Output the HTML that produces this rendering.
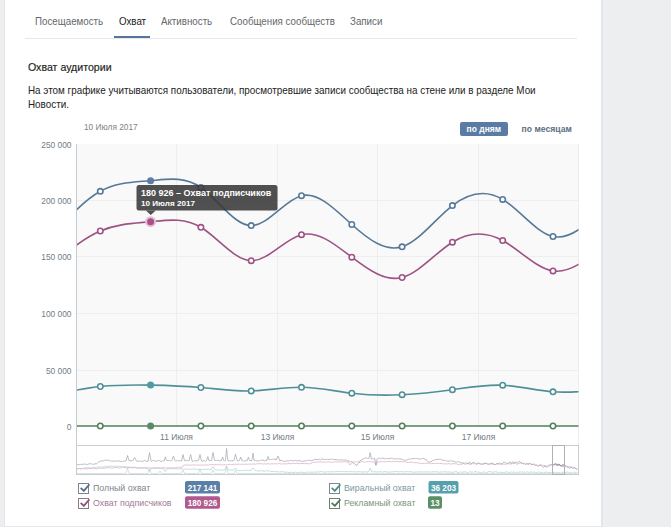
<!DOCTYPE html>
<html><head><meta charset="utf-8">
<style>
html,body{margin:0;padding:0;}
body{width:671px;height:527px;background:#edeef0;position:relative;overflow:hidden;font-family:"Liberation Sans",sans-serif;}
.panel{position:absolute;left:5px;top:0;width:596px;height:527px;background:#fff;}
.edge{position:absolute;left:601px;top:0;width:2px;height:527px;background:#e4e5e9;}
.edge2{position:absolute;left:603px;top:0;width:1px;height:527px;background:#eff0f2;}
.edgel{position:absolute;left:4px;top:0;width:1px;height:527px;background:#e4e5e8;}
.t{position:absolute;white-space:nowrap;line-height:1;}
.tab{font-size:10.6px;color:#64676b;top:15.5px;}
.sx{display:inline-block;transform-origin:0 0;}
</style></head><body>
<div class="panel"></div>
<div class="edge"></div><div style="position:absolute;left:5px;top:526px;width:596px;height:1px;background:#e6e7ea"></div><div class="edge2"></div><div class="edgel"></div>
<div class="t tab" style="left:35px"><span class="sx" style="transform:scaleX(0.92)">Посещаемость</span></div>
<div class="t tab" style="left:119px;color:#222"><span class="sx" style="transform:scaleX(0.92)">Охват</span></div>
<div class="t tab" style="left:161px"><span class="sx" style="transform:scaleX(0.92)">Активность</span></div>
<div class="t tab" style="left:230px"><span class="sx" style="transform:scaleX(0.92)">Сообщения сообществ</span></div>
<div class="t tab" style="left:350px"><span class="sx" style="transform:scaleX(0.92)">Записи</span></div>
<div style="position:absolute;left:25px;top:38px;width:552px;height:1px;background:#e7e8ec"></div>
<div style="position:absolute;left:114px;top:36px;width:36px;height:2px;background:#56779b"></div>
<div class="t" style="left:28px;top:62px;font-size:10.6px;color:#222;-webkit-text-stroke:0.15px #222">Охват аудитории</div>
<div class="t" style="left:28px;top:82.5px;font-size:10.8px;color:#222;line-height:14px"><span class="sx" style="transform:scaleX(0.9135)">На этом графике учитываются пользователи, просмотревшие записи сообщества на стене или в разделе Мои<br>Новости.</span></div>
<div class="t" style="left:84px;top:123px;font-size:8.3px;color:#828282">10 Июля 2017</div>
<div style="position:absolute;left:460px;top:122px;width:48px;height:14px;background:#5a7ca4;border-radius:2px"></div>
<div class="t" style="left:466.6px;top:125px;font-size:8.5px;font-weight:bold;color:#fff">по дням</div>
<div class="t" style="left:521.6px;top:125px;font-size:8.6px;font-weight:bold;color:#5d6f85">по месяцам</div>
<svg width="671" height="527" style="position:absolute;left:0;top:0">
<defs><clipPath id="pc"><rect x="77" y="130" width="501.5" height="310"/></clipPath></defs>
<rect x="77" y="144" width="501.5" height="283" fill="#f9f9fa"/>
<g stroke="#eceef0" stroke-width="1">

<line x1="77" y1="200.5" x2="578" y2="200.5"/>
<line x1="77" y1="256.5" x2="578" y2="256.5"/>
<line x1="77" y1="313.5" x2="578" y2="313.5"/>
<line x1="77" y1="370.5" x2="578" y2="370.5"/>
<line x1="176.5" y1="144" x2="176.5" y2="427"/>
<line x1="277.5" y1="144" x2="277.5" y2="427"/>
<line x1="377.5" y1="144" x2="377.5" y2="427"/>
<line x1="478.5" y1="144" x2="478.5" y2="427"/>
<line x1="578.5" y1="144" x2="578.5" y2="445"/>
</g>
<line x1="76.5" y1="144" x2="76.5" y2="475" stroke="#c6cbd2" stroke-width="1"/>
<g font-family="Liberation Sans" font-size="8.4" fill="#717b86" text-anchor="end">
<text x="71.5" y="147.5">250 000</text>
<text x="71.5" y="203.5">200 000</text>
<text x="71.5" y="260">150 000</text>
<text x="71.5" y="316.5">100 000</text>
<text x="71.5" y="373.5">50 000</text>
<text x="71.5" y="429.5">0</text>
</g>
<g font-family="Liberation Sans" font-size="8.46" fill="#717b86" text-anchor="middle">
<text x="176.5" y="440">11 Июля</text>
<text x="277.5" y="440">13 Июля</text>
<text x="377.5" y="440">15 Июля</text>
<text x="478.5" y="440">17 Июля</text>
</g>
<path d="M50.00,426.00 C66.77,426.00 83.53,426.00 100.30,426.00 C117.07,426.00 133.83,426.00 150.60,426.00 C167.37,426.00 184.13,426.00 200.90,426.00 C217.67,426.00 234.43,426.00 251.20,426.00 C267.97,426.00 284.73,426.00 301.50,426.00 C318.27,426.00 335.03,426.00 351.80,426.00 C368.57,426.00 385.33,426.00 402.10,426.00 C418.87,426.00 435.63,426.00 452.40,426.00 C469.17,426.00 485.93,426.00 502.70,426.00 C519.47,426.00 536.23,426.00 553.00,426.00 C569.77,426.00 586.53,426.00 603.30,426.00" fill="none" stroke="#537f5c" stroke-width="1.6" clip-path="url(#pc)"/>
<circle cx="100.30" cy="426.00" r="2.7" fill="#fff" stroke="#537f5c" stroke-width="1.6"/><circle cx="150.60" cy="426.00" r="3.5" fill="#5a8a66"/><circle cx="200.90" cy="426.00" r="2.7" fill="#fff" stroke="#537f5c" stroke-width="1.6"/><circle cx="251.20" cy="426.00" r="2.7" fill="#fff" stroke="#537f5c" stroke-width="1.6"/><circle cx="301.50" cy="426.00" r="2.7" fill="#fff" stroke="#537f5c" stroke-width="1.6"/><circle cx="351.80" cy="426.00" r="2.7" fill="#fff" stroke="#537f5c" stroke-width="1.6"/><circle cx="402.10" cy="426.00" r="2.7" fill="#fff" stroke="#537f5c" stroke-width="1.6"/><circle cx="452.40" cy="426.00" r="2.7" fill="#fff" stroke="#537f5c" stroke-width="1.6"/><circle cx="502.70" cy="426.00" r="2.7" fill="#fff" stroke="#537f5c" stroke-width="1.6"/><circle cx="553.00" cy="426.00" r="2.7" fill="#fff" stroke="#537f5c" stroke-width="1.6"/>
<path d="M50.00,395.49 C66.77,391.88 83.53,388.28 100.30,386.50 C117.07,384.72 133.83,384.78 150.60,385.10 C167.37,385.42 184.13,386.01 200.90,387.50 C217.67,388.99 234.43,391.37 251.20,390.90 C267.97,390.43 284.73,387.11 301.50,387.30 C318.27,387.49 335.03,391.20 351.80,393.20 C368.57,395.20 385.33,395.48 402.10,394.70 C418.87,393.92 435.63,392.08 452.40,389.70 C469.17,387.32 485.93,384.41 502.70,385.20 C519.47,385.99 536.23,390.47 553.00,391.80 C569.77,393.13 586.53,391.31 603.30,389.49" fill="none" stroke="#4f9097" stroke-width="1.6" clip-path="url(#pc)"/>
<circle cx="100.30" cy="386.50" r="2.7" fill="#fff" stroke="#4f9097" stroke-width="1.6"/><circle cx="150.60" cy="385.10" r="3.5" fill="#529aa2"/><circle cx="200.90" cy="387.50" r="2.7" fill="#fff" stroke="#4f9097" stroke-width="1.6"/><circle cx="251.20" cy="390.90" r="2.7" fill="#fff" stroke="#4f9097" stroke-width="1.6"/><circle cx="301.50" cy="387.30" r="2.7" fill="#fff" stroke="#4f9097" stroke-width="1.6"/><circle cx="351.80" cy="393.20" r="2.7" fill="#fff" stroke="#4f9097" stroke-width="1.6"/><circle cx="402.10" cy="394.70" r="2.7" fill="#fff" stroke="#4f9097" stroke-width="1.6"/><circle cx="452.40" cy="389.70" r="2.7" fill="#fff" stroke="#4f9097" stroke-width="1.6"/><circle cx="502.70" cy="385.20" r="2.7" fill="#fff" stroke="#4f9097" stroke-width="1.6"/><circle cx="553.00" cy="391.80" r="2.7" fill="#fff" stroke="#4f9097" stroke-width="1.6"/>
<path d="M50.00,266.03 C66.77,252.11 83.53,238.19 100.30,231.00 C117.07,223.81 133.83,223.34 150.60,221.70 C167.37,220.06 184.13,217.23 200.90,227.30 C217.67,237.37 234.43,260.32 251.20,260.70 C267.97,261.08 284.73,238.88 301.50,234.70 C318.27,230.52 335.03,244.37 351.80,257.20 C368.57,270.03 385.33,281.84 402.10,277.50 C418.87,273.16 435.63,252.65 452.40,242.20 C469.17,231.75 485.93,231.35 502.70,240.50 C519.47,249.65 536.23,268.34 553.00,270.90 C569.77,273.46 586.53,259.89 603.30,246.32" fill="none" stroke="#9e5283" stroke-width="1.6" clip-path="url(#pc)"/>
<circle cx="100.30" cy="231.00" r="2.7" fill="#fff" stroke="#9e5283" stroke-width="1.6"/><circle cx="150.60" cy="221.70" r="5.5" fill="#e6c0d7"/><circle cx="150.60" cy="221.70" r="3.5" fill="#a8508a"/><circle cx="200.90" cy="227.30" r="2.7" fill="#fff" stroke="#9e5283" stroke-width="1.6"/><circle cx="251.20" cy="260.70" r="2.7" fill="#fff" stroke="#9e5283" stroke-width="1.6"/><circle cx="301.50" cy="234.70" r="2.7" fill="#fff" stroke="#9e5283" stroke-width="1.6"/><circle cx="351.80" cy="257.20" r="2.7" fill="#fff" stroke="#9e5283" stroke-width="1.6"/><circle cx="402.10" cy="277.50" r="2.7" fill="#fff" stroke="#9e5283" stroke-width="1.6"/><circle cx="452.40" cy="242.20" r="2.7" fill="#fff" stroke="#9e5283" stroke-width="1.6"/><circle cx="502.70" cy="240.50" r="2.7" fill="#fff" stroke="#9e5283" stroke-width="1.6"/><circle cx="553.00" cy="270.90" r="2.7" fill="#fff" stroke="#9e5283" stroke-width="1.6"/>
<path d="M50.00,238.24 C66.77,219.42 83.53,200.60 100.30,191.30 C117.07,182.00 133.83,182.21 150.60,180.70 C167.37,179.19 184.13,175.94 200.90,187.50 C217.67,199.06 234.43,225.41 251.20,225.60 C267.97,225.79 284.73,199.80 301.50,195.70 C318.27,191.60 335.03,209.39 351.80,224.50 C368.57,239.61 385.33,252.04 402.10,246.80 C418.87,241.56 435.63,218.65 452.40,205.60 C469.17,192.55 485.93,189.36 502.70,199.40 C519.47,209.44 536.23,232.72 553.00,236.50 C569.77,240.28 586.53,224.58 603.30,208.87" fill="none" stroke="#587898" stroke-width="1.6" clip-path="url(#pc)"/>
<circle cx="100.30" cy="191.30" r="2.7" fill="#fff" stroke="#587898" stroke-width="1.6"/><circle cx="150.60" cy="180.70" r="3.5" fill="#5c7ea5"/><circle cx="200.90" cy="187.50" r="2.7" fill="#fff" stroke="#587898" stroke-width="1.6"/><circle cx="251.20" cy="225.60" r="2.7" fill="#fff" stroke="#587898" stroke-width="1.6"/><circle cx="301.50" cy="195.70" r="2.7" fill="#fff" stroke="#587898" stroke-width="1.6"/><circle cx="351.80" cy="224.50" r="2.7" fill="#fff" stroke="#587898" stroke-width="1.6"/><circle cx="402.10" cy="246.80" r="2.7" fill="#fff" stroke="#587898" stroke-width="1.6"/><circle cx="452.40" cy="205.60" r="2.7" fill="#fff" stroke="#587898" stroke-width="1.6"/><circle cx="502.70" cy="199.40" r="2.7" fill="#fff" stroke="#587898" stroke-width="1.6"/><circle cx="553.00" cy="236.50" r="2.7" fill="#fff" stroke="#587898" stroke-width="1.6"/>
<rect x="76.5" y="445.5" width="502" height="29" fill="none" stroke="#c9ccd2" stroke-width="1"/>
<path d="M77.0,473.4 L78.3,473.6 L79.6,473.5 L80.9,473.5 L82.2,473.6 L83.5,473.4 L84.8,473.4 L86.1,473.5 L87.4,473.4 L88.7,473.5 L90.0,473.5 L91.3,473.5 L92.6,473.5 L93.9,473.5 L95.2,473.4 L96.5,473.6 L97.8,473.4 L99.1,473.5 L100.4,473.4 L101.7,473.5 L103.0,473.6 L104.3,473.6 L105.6,473.4 L106.9,473.5 L108.2,473.5 L109.5,473.4 L110.8,473.6 L112.1,473.4 L113.4,473.5 L114.7,473.6 L116.0,473.6 L117.3,473.4 L118.6,473.5 L119.9,473.5 L121.2,473.4 L122.5,473.4 L123.8,473.6 L125.1,473.4 L126.0,473.4 L127.5,468.0 L129.0,473.4 L130.3,473.5 L131.6,473.5 L132.9,473.5 L134.2,473.4 L135.5,473.4 L136.8,473.6 L138.1,473.6 L139.4,473.5 L140.7,473.4 L142.0,473.5 L143.3,473.5 L144.6,473.4 L145.9,473.5 L147.2,473.6 L148.0,473.4 L149.5,469.0 L151.0,473.4 L151.1,473.5 L152.4,473.5 L153.7,473.6 L155.0,473.5 L156.3,473.4 L157.6,473.5 L158.5,473.4 L160.0,471.0 L161.5,473.5 L161.5,473.5 L162.8,473.4 L164.1,473.5 L165.4,473.5 L166.7,473.6 L168.0,473.5 L169.3,473.6 L170.6,473.5 L171.9,473.5 L173.2,473.6 L174.5,473.5 L175.8,473.6 L177.1,473.4 L178.4,473.5 L179.7,473.4 L181.0,473.5 L181.5,473.6 L183.0,470.0 L184.5,473.5 L184.9,473.4 L186.2,473.4 L187.5,473.4 L188.8,473.5 L190.1,473.5 L191.4,473.5 L192.7,473.6 L194.0,473.5 L195.3,473.6 L196.6,473.4 L197.9,473.5 L198.5,473.5 L200.0,469.0 L201.5,473.4 L201.8,473.4 L203.1,473.5 L204.4,473.5 L205.7,473.5 L207.0,473.4 L208.3,473.4 L209.6,473.5 L210.9,473.5 L211.5,473.4 L213.0,470.0 L214.5,473.6 L214.8,473.6 L216.1,473.5 L217.4,473.5 L218.7,473.5 L220.0,473.4 L221.3,473.6 L222.6,473.5 L223.9,473.6 L225.1,473.4 L226.6,467.0 L228.1,473.5 L229.1,473.5 L230.4,473.6 L231.7,473.4 L233.0,473.5 L234.0,473.6 L235.5,470.0 L237.0,473.6 L238.2,473.5 L239.5,473.4 L240.8,473.6 L242.1,473.5 L243.4,473.6 L244.7,473.5 L246.0,473.4 L247.3,473.5 L248.6,473.4 L249.9,473.4 L251.2,473.4 L252.5,473.5 L253.8,473.4 L255.1,473.5 L256.4,473.5 L257.7,473.5 L259.0,473.4 L260.3,473.5 L261.6,473.5 L262.9,473.5 L264.2,473.5 L265.5,473.4 L266.8,473.4 L268.1,473.5 L269.4,473.5 L270.7,473.5 L272.0,473.5 L273.3,473.6 L274.6,473.4 L275.9,473.5 L277.2,473.5 L278.5,473.4 L279.8,473.4 L281.1,473.4 L282.4,473.5 L283.7,473.5 L285.0,473.6 L286.3,473.6 L287.6,473.5 L288.9,473.5 L290.2,473.6 L291.5,473.4 L292.8,473.5 L294.1,473.5 L295.4,473.6 L296.7,473.6 L298.0,473.4 L299.3,473.5 L300.6,473.4 L301.9,473.5 L303.2,473.5 L304.5,473.4 L305.8,473.5 L307.1,473.5 L308.4,473.5 L309.7,473.5 L311.0,473.4 L312.3,473.5 L313.6,473.5 L314.9,473.4 L316.2,473.5 L317.5,473.4 L318.8,473.4 L320.1,473.5 L321.4,473.5 L322.7,473.4 L324.0,473.5 L325.3,473.5 L326.6,473.5 L327.9,473.5 L329.2,473.4 L330.5,473.5 L331.8,473.5 L333.1,473.4 L334.4,473.5 L335.7,473.4 L337.0,473.5 L338.3,473.5 L339.6,473.5 L340.9,473.5 L342.2,473.5 L343.5,473.4 L344.8,473.5 L346.1,473.6 L347.4,473.5 L348.7,473.5 L350.0,473.5 L351.3,473.4 L352.6,473.5 L353.9,473.5 L355.2,473.6 L356.5,473.5 L357.8,473.5 L359.1,473.6 L360.4,473.6 L361.7,473.5 L363.0,473.5 L364.3,473.5 L365.6,473.5 L366.9,473.5 L368.2,473.6 L369.5,473.6 L370.8,473.5 L372.1,473.6 L373.4,473.4 L374.7,473.4 L376.0,473.5 L377.3,473.5 L378.6,473.5 L379.9,473.6 L381.2,473.4 L382.5,473.4 L383.8,473.4 L385.1,473.5 L386.4,473.4 L387.7,473.4 L389.0,473.5 L390.3,473.5 L391.6,473.4 L392.9,473.5 L394.2,473.5 L395.5,473.5 L396.8,473.5 L398.1,473.5 L399.4,473.6 L400.7,473.6 L402.0,473.5 L403.3,473.5 L404.6,473.6 L405.9,473.5 L407.2,473.5 L408.5,473.5 L409.8,473.5 L411.1,473.6 L412.4,473.6 L413.7,473.4 L415.0,473.5 L416.3,473.5 L417.6,473.5 L418.9,473.5 L420.2,473.5 L421.5,473.5 L422.8,473.5 L424.1,473.4 L425.4,473.4 L426.7,473.5 L428.0,473.4 L429.3,473.5 L430.6,473.4 L431.9,473.4 L433.2,473.4 L434.5,473.4 L435.8,473.5 L437.1,473.4 L438.4,473.5 L439.7,473.6 L441.0,473.5 L442.3,473.4 L443.6,473.6 L444.9,473.6 L446.2,473.4 L447.5,473.5 L448.8,473.5 L450.1,473.6 L451.4,473.5 L452.7,473.5 L454.0,473.5 L455.3,473.6 L456.6,473.4 L457.9,473.4 L459.2,473.6 L460.5,473.7 L461.8,473.6 L463.1,473.5 L464.4,473.5 L465.7,473.6 L467.0,473.6 L468.3,473.6 L469.6,473.6 L470.9,473.3 L472.2,473.4 L473.5,473.6 L474.8,473.4 L476.1,473.4 L477.4,473.3 L478.7,473.5 L480.0,473.7 L481.3,473.7 L482.6,473.3 L483.9,473.6 L485.2,473.5 L486.5,473.6 L487.8,473.5 L489.1,473.7 L490.4,473.7 L491.7,473.3 L493.0,473.6 L494.3,473.3 L495.6,473.3 L496.9,473.4 L498.2,473.6 L499.5,473.7 L500.8,473.3 L502.1,473.4 L503.4,473.3 L504.7,473.5 L506.0,473.5 L507.3,473.4 L508.6,473.4 L509.9,473.6 L511.2,473.6 L512.5,473.4 L513.8,473.5 L515.1,473.6 L516.4,473.6 L517.7,473.7 L519.0,473.5 L520.3,473.6 L521.6,473.5 L522.9,473.6 L524.2,473.3 L525.5,473.4 L526.8,473.3 L528.1,473.7 L529.4,473.4 L530.7,473.5 L532.0,473.3 L533.3,473.4 L534.6,473.3 L535.9,473.5 L537.2,473.3 L538.5,473.6 L539.8,473.4 L541.1,473.4 L542.4,473.5 L543.7,473.4 L545.0,473.4 L546.3,473.3 L547.6,473.3 L548.9,473.7 L550.2,473.4 L551.5,473.3 L552.8,473.4 L554.1,473.5 L555.4,473.7 L556.7,473.4 L558.0,473.7 L559.3,473.5 L560.6,473.5 L561.9,473.6 L563.2,473.5 L564.5,473.3 L565.8,473.5 L567.1,473.6 L568.4,473.6 L569.7,473.4 L571.0,473.7 L572.3,473.7 L573.6,473.7 L574.9,473.5 L576.2,473.6 L577.5,473.6" fill="none" stroke="#c3d6c8" stroke-width="0.7"/>
<path d="M77.0,468.4 L78.3,468.6 L79.6,468.5 L80.9,468.7 L82.2,468.5 L83.5,468.3 L84.8,467.9 L86.1,467.8 L87.4,467.9 L88.7,467.7 L90.0,468.1 L91.3,467.7 L92.6,467.7 L93.9,467.9 L95.2,467.3 L96.5,467.4 L97.8,467.0 L99.1,467.3 L100.4,466.7 L101.7,467.2 L103.0,467.1 L104.3,467.0 L105.6,466.4 L106.9,466.4 L108.2,466.6 L109.5,466.1 L110.8,466.3 L112.1,466.2 L113.4,466.4 L114.7,466.1 L116.0,466.3 L117.3,466.0 L118.6,466.5 L119.9,466.3 L121.2,466.8 L122.5,466.3 L123.8,466.9 L125.1,466.6 L126.4,466.9 L127.7,467.0 L129.0,466.9 L130.3,467.5 L131.6,467.2 L132.9,467.3 L134.2,467.2 L135.5,467.5 L136.8,467.7 L138.1,468.0 L139.4,467.9 L140.7,468.1 L142.0,467.8 L143.3,468.0 L144.6,468.1 L145.9,468.5 L147.2,468.4 L147.5,468.1 L149.5,471.5 L151.5,468.2 L152.4,468.4 L153.7,468.0 L155.0,468.3 L156.3,468.5 L157.6,468.2 L158.9,468.5 L160.2,468.4 L161.5,468.2 L162.8,468.9 L163.3,468.4 L165.3,471.5 L167.3,468.8 L168.0,468.9 L169.3,468.5 L170.6,468.8 L171.9,468.6 L173.2,468.7 L174.5,468.8 L175.8,468.7 L177.1,468.8 L178.4,468.8 L179.7,469.0 L181.0,468.8 L182.3,468.8 L183.6,469.2 L184.9,468.9 L186.2,469.4 L187.5,469.2 L188.8,469.3 L190.1,469.1 L191.4,469.4 L192.7,468.9 L194.0,469.0 L195.3,469.0 L196.6,469.5 L197.9,469.5 L199.2,469.2 L200.5,469.3 L201.8,469.7 L203.1,469.5 L204.4,469.2 L205.7,469.3 L207.0,469.3 L208.3,469.3 L209.6,469.6 L210.9,469.4 L211.0,469.7 L213.0,466.5 L215.0,469.4 L216.1,470.1 L217.4,469.8 L218.7,469.9 L220.0,470.0 L221.3,470.1 L222.6,470.2 L223.9,469.9 L224.6,470.1 L226.6,466.0 L228.6,470.2 L229.1,470.0 L230.4,470.1 L231.7,469.8 L233.0,470.1 L233.5,470.2 L235.5,468.0 L237.5,470.5 L238.2,470.4 L239.5,470.7 L240.8,470.6 L242.1,470.5 L243.4,470.5 L244.7,470.1 L246.0,470.4 L247.3,470.4 L248.6,470.7 L249.9,470.3 L251.0,470.4 L253.0,468.0 L255.0,470.5 L255.1,470.6 L256.4,470.7 L257.7,471.0 L259.0,471.0 L260.3,470.9 L261.6,470.6 L262.9,471.1 L264.2,471.2 L265.5,471.0 L266.8,470.9 L268.1,471.0 L269.4,470.8 L270.7,471.3 L272.0,471.6 L273.3,471.4 L274.6,471.6 L275.9,471.8 L277.2,471.4 L278.5,472.0 L279.8,471.9 L281.1,471.7 L282.4,471.7 L283.7,471.9 L285.0,472.2 L286.3,472.4 L287.6,472.2 L288.9,472.7 L290.2,472.4 L291.5,472.4 L292.8,472.2 L294.1,472.8 L295.4,472.1 L296.7,472.7 L298.0,472.4 L299.3,472.4 L300.6,472.3 L301.9,472.1 L303.2,472.5 L304.5,472.6 L305.8,472.4 L307.1,472.2 L308.4,471.9 L309.7,472.4 L311.0,472.0 L312.3,472.4 L313.6,471.9 L314.9,472.1 L316.2,472.2 L317.5,471.8 L318.8,472.0 L320.1,471.6 L321.4,471.6 L322.7,471.7 L324.0,472.2 L325.3,472.1 L326.6,471.9 L327.9,471.6 L329.2,471.9 L330.5,471.9 L331.8,471.6 L333.1,471.8 L334.4,471.9 L335.7,471.4 L337.0,471.5 L338.3,471.7 L339.6,471.5 L340.9,471.6 L342.2,471.8 L343.5,471.5 L344.8,471.7 L346.1,471.6 L347.4,471.8 L348.7,471.6 L350.0,471.8 L351.3,471.4 L352.6,471.9 L353.9,471.5 L355.2,472.1 L356.5,471.8 L357.8,471.7 L359.1,471.7 L360.4,471.8 L361.7,471.9 L363.0,471.9 L364.3,471.9 L365.6,471.7 L366.9,472.1 L368.2,472.0 L368.7,471.4 L370.2,468.0 L371.7,471.8 L372.1,472.0 L373.4,471.7 L374.7,471.7 L376.0,471.8 L377.3,472.1 L378.6,471.8 L379.9,471.8 L381.2,471.7 L382.5,472.1 L383.8,471.7 L385.1,471.5 L386.4,471.9 L387.7,472.1 L389.0,472.0 L390.3,471.9 L391.6,472.0 L392.9,471.7 L394.2,471.9 L395.5,471.5 L396.8,471.5 L398.1,471.8 L399.4,471.8 L400.7,471.7 L402.0,471.5 L403.3,472.0 L404.6,471.9 L405.9,471.7 L407.2,471.7 L408.5,471.8 L409.8,471.7 L411.1,471.6 L412.4,472.2 L413.7,472.2 L415.0,472.0 L416.3,472.1 L417.6,471.8 L418.9,472.1 L420.2,471.7 L421.5,472.1 L422.8,471.9 L424.1,472.2 L425.4,471.6 L426.7,472.1 L428.0,471.7 L429.3,472.0 L430.6,472.2 L431.9,471.6 L433.2,471.8 L434.5,471.8 L435.8,471.8 L437.1,471.7 L438.4,472.2 L439.7,472.2 L441.0,471.9 L442.3,471.9 L443.6,472.0 L444.9,471.7 L446.2,471.7 L447.5,472.3 L448.8,471.9 L450.1,472.0 L451.4,472.3 L452.7,472.4 L454.0,472.0 L455.3,471.6 L456.6,471.7 L457.9,472.7 L459.2,472.7 L460.5,471.6 L461.8,472.6 L463.1,471.8 L464.4,472.0 L465.7,471.6 L467.0,472.7 L468.3,472.8 L469.6,471.6 L470.9,472.3 L472.2,471.6 L473.5,472.7 L474.8,471.4 L476.1,471.5 L477.4,472.5 L478.7,471.8 L480.0,472.7 L481.3,472.7 L482.6,472.5 L483.9,471.6 L485.2,472.4 L486.5,472.8 L487.8,472.1 L489.1,471.5 L490.4,471.7 L491.7,471.9 L493.0,472.5 L494.3,471.7 L495.6,471.7 L496.9,471.8 L498.2,472.4 L499.5,472.6 L500.8,472.0 L502.1,472.5 L503.4,472.8 L504.7,472.4 L506.0,471.8 L507.3,471.9 L508.6,472.9 L509.9,472.5 L511.2,471.9 L512.5,472.5 L513.8,471.6 L515.1,473.0 L516.4,472.2 L517.7,472.3 L519.0,472.3 L520.3,471.6 L521.6,472.4 L522.9,472.0 L524.2,471.9 L525.5,472.8 L526.8,471.7 L528.1,472.0 L529.4,472.7 L530.7,471.9 L532.0,472.0 L533.3,472.4 L534.6,471.8 L535.9,472.9 L537.2,473.1 L538.5,471.6 L539.8,472.3 L541.1,472.7 L542.4,472.2 L543.7,473.0 L545.0,472.4 L546.3,471.9 L547.6,472.5 L548.9,472.6 L550.2,472.2 L551.5,472.6 L552.8,472.8 L554.1,472.4 L555.4,472.4 L556.7,472.9 L558.0,472.7 L559.3,472.5 L560.6,473.1 L561.9,471.9 L563.2,472.9 L564.5,471.9 L565.8,472.6 L567.1,472.0 L568.4,472.4 L569.7,472.9 L571.0,472.9 L572.3,472.9 L573.6,472.1 L574.9,472.5 L576.2,472.1 L577.5,472.6" fill="none" stroke="#b3d4d8" stroke-width="0.8"/>
<path d="M77.0,469.2 L78.3,468.7 L79.6,468.7 L80.9,469.0 L82.2,468.6 L83.5,468.5 L84.8,469.0 L86.1,468.6 L87.4,468.9 L88.7,468.3 L90.0,468.5 L91.3,468.7 L92.6,468.2 L93.9,468.2 L95.2,468.5 L96.5,468.7 L97.8,468.7 L99.1,468.0 L100.4,468.3 L101.7,468.4 L103.0,468.2 L104.3,468.3 L105.6,467.9 L106.9,467.8 L108.2,467.7 L109.5,467.7 L110.8,468.0 L112.1,467.9 L113.4,467.9 L114.7,467.6 L116.0,467.6 L117.3,467.5 L118.6,467.9 L119.9,468.0 L121.2,467.9 L122.5,467.3 L123.8,467.2 L125.1,467.8 L126.4,467.5 L127.7,467.8 L129.0,467.5 L130.3,467.7 L131.6,467.7 L132.9,467.7 L134.2,467.9 L135.5,467.5 L136.8,468.0 L138.1,468.2 L139.4,467.8 L140.7,468.0 L142.0,468.1 L143.3,467.9 L144.6,467.7 L145.9,467.7 L147.2,467.9 L148.5,467.6 L149.8,468.2 L151.1,468.1 L152.4,468.0 L153.7,468.1 L155.0,467.9 L156.3,467.7 L157.6,467.9 L158.9,467.8 L160.2,468.1 L161.5,468.0 L162.8,467.6 L164.1,468.0 L165.4,467.9 L166.7,467.9 L168.0,467.9 L169.3,467.6 L170.6,467.9 L171.9,467.9 L173.2,467.7 L174.5,467.8 L175.8,467.8 L177.1,467.5 L178.4,467.7 L179.7,467.2 L181.0,467.4 L182.3,467.1 L183.6,465.2 L184.9,464.9 L186.2,465.1 L187.5,465.1 L188.8,464.8 L190.1,465.3 L191.4,465.1 L192.7,464.9 L194.0,465.1 L195.3,465.0 L196.6,465.0 L197.9,464.9 L199.2,465.3 L200.5,465.1 L201.8,465.1 L203.1,465.2 L204.4,465.3 L205.7,464.6 L207.0,465.0 L208.3,465.1 L209.6,464.7 L210.9,464.8 L212.2,464.5 L213.5,464.6 L214.8,464.7 L216.1,464.5 L217.4,464.6 L218.7,465.0 L220.0,464.7 L221.3,464.7 L222.6,465.0 L223.9,464.7 L225.2,464.9 L226.5,464.7 L227.8,464.8 L229.1,464.2 L230.4,464.6 L231.7,464.7 L233.0,464.1 L234.3,464.7 L235.6,464.2 L236.9,464.4 L238.2,464.1 L239.5,464.3 L240.8,464.4 L242.1,464.0 L243.4,464.6 L244.7,464.2 L246.0,464.2 L247.3,464.3 L248.6,464.1 L249.9,464.0 L251.2,464.2 L252.5,464.1 L253.8,463.9 L255.1,464.2 L256.4,463.9 L257.7,463.7 L259.0,463.8 L260.3,463.6 L261.6,463.7 L262.9,464.1 L264.2,463.8 L265.5,464.1 L266.8,464.0 L268.1,463.5 L269.4,464.1 L270.7,464.1 L272.0,463.5 L273.3,464.0 L274.6,463.7 L275.9,463.7 L277.2,464.1 L278.5,463.5 L279.8,463.7 L281.1,464.0 L282.4,463.9 L283.7,463.7 L285.0,464.0 L286.3,463.9 L287.6,463.7 L288.9,463.4 L290.2,463.7 L291.5,463.6 L292.8,463.4 L294.1,463.3 L295.4,463.6 L296.7,463.3 L298.0,463.5 L299.3,463.7 L300.6,463.5 L301.9,463.4 L303.2,463.6 L304.5,463.5 L305.8,463.7 L307.1,463.5 L308.4,463.9 L309.7,463.8 L311.0,463.4 L312.3,462.6 L313.6,462.1 L314.9,462.3 L316.2,462.2 L317.5,462.1 L318.8,461.9 L320.1,461.8 L321.4,462.1 L322.7,462.0 L324.0,462.1 L325.3,462.1 L326.6,462.2 L327.9,461.8 L329.2,461.8 L330.5,462.3 L331.8,462.3 L333.1,462.3 L334.4,461.7 L335.7,461.7 L337.0,461.8 L338.3,461.9 L339.6,462.1 L340.9,461.7 L342.2,462.0 L343.5,461.7 L344.8,461.7 L346.1,462.1 L347.4,462.0 L348.0,461.8 L350.0,465.0 L352.0,462.3 L352.6,462.1 L353.9,461.9 L355.2,461.9 L356.5,461.7 L357.8,461.8 L359.1,462.1 L360.4,462.1 L361.7,461.6 L363.0,461.6 L364.3,462.1 L365.6,461.9 L366.9,462.0 L368.2,461.6 L369.5,461.7 L370.8,461.6 L372.1,462.0 L373.4,461.7 L374.0,461.8 L376.0,465.0 L378.0,461.5 L378.6,461.8 L379.9,462.0 L381.2,461.5 L382.5,461.7 L383.8,461.8 L385.1,461.9 L386.4,461.6 L387.7,461.5 L389.0,461.3 L390.3,461.8 L391.6,461.3 L392.9,461.2 L394.2,461.6 L395.5,461.5 L396.8,461.7 L398.1,461.5 L399.4,461.9 L400.7,461.5 L402.0,461.7 L403.3,462.1 L404.6,461.7 L405.9,462.0 L407.2,462.4 L408.5,462.4 L409.8,462.2 L411.1,462.2 L412.4,462.4 L413.7,462.8 L415.0,462.6 L416.3,462.5 L417.6,463.0 L418.9,463.0 L420.2,463.3 L421.5,463.4 L422.8,463.5 L424.1,463.2 L425.4,463.5 L426.7,463.2 L428.0,463.2 L429.3,463.3 L430.6,463.7 L431.9,463.7 L433.2,463.3 L434.5,463.4 L435.8,463.4 L437.1,463.4 L438.4,463.5 L439.7,463.5 L441.0,463.4 L442.3,463.7 L443.6,463.9 L444.9,463.7 L446.2,464.0 L447.5,463.8 L448.8,463.5 L450.1,464.0 L451.4,464.1 L452.7,463.7 L454.0,463.5 L455.3,463.9 L456.6,464.0 L457.9,464.1 L459.2,464.7 L460.5,464.2 L461.8,464.5 L463.1,463.3 L464.4,464.0 L465.7,464.4 L467.0,463.3 L468.3,463.3 L469.6,464.3 L470.9,464.5 L472.2,463.3 L473.5,464.1 L474.8,463.3 L476.1,464.3 L477.4,464.1 L478.7,463.5 L480.0,463.4 L481.3,464.2 L482.6,463.9 L483.9,464.2 L485.2,463.6 L486.5,463.5 L487.8,464.5 L489.1,464.0 L490.4,463.8 L491.7,463.8 L493.0,464.1 L494.3,464.1 L495.6,464.4 L496.9,463.6 L498.2,464.2 L499.5,463.9 L500.8,464.2 L502.1,464.1 L503.4,464.2 L504.7,464.2 L506.0,464.3 L507.3,463.8 L508.6,463.7 L509.9,463.9 L511.2,464.1 L512.5,463.5 L513.8,463.5 L515.1,463.0 L516.4,463.9 L517.7,464.3 L519.0,463.3 L520.3,463.0 L521.6,463.1 L522.9,463.4 L524.2,463.2 L525.5,464.4 L526.8,463.2 L528.1,463.7 L529.4,463.5 L530.7,464.5 L532.0,464.9 L533.3,464.1 L534.6,464.1 L535.9,464.9 L537.2,465.2 L538.5,465.9 L539.8,464.7 L541.1,464.9 L542.4,465.2 L543.7,465.4 L545.0,465.6 L546.3,466.1 L547.6,465.8 L548.9,465.0 L550.2,464.7 L551.5,464.7 L552.8,464.3 L554.1,465.0 L555.4,464.3 L556.7,464.9 L558.0,465.6 L559.3,465.3 L560.6,465.2 L561.9,466.4 L563.2,466.7 L564.5,466.0 L565.8,466.6 L567.1,467.5 L568.4,467.0 L569.7,466.8 L571.0,466.8 L572.3,468.4 L573.6,468.5 L574.9,468.1 L576.2,468.5 L577.5,468.7" fill="none" stroke="#dcb3cb" stroke-width="0.8"/>
<path d="M77.0,464.4 L78.2,464.5 L79.4,464.9 L80.6,464.3 L81.8,464.4 L83.0,464.4 L84.2,463.9 L85.4,464.3 L86.6,464.4 L87.8,464.5 L89.0,463.7 L90.2,463.9 L91.4,463.7 L92.6,464.4 L93.8,464.3 L95.0,463.5 L96.2,464.3 L97.4,462.9 L98.6,461.8 L99.8,461.6 L101.0,460.9 L102.2,460.6 L103.4,461.0 L104.6,460.3 L105.8,460.3 L107.0,460.2 L108.2,460.1 L109.4,460.7 L110.6,460.8 L111.8,461.4 L113.0,461.0 L114.2,461.2 L115.4,461.0 L116.6,461.2 L117.8,461.0 L119.0,460.8 L120.2,461.5 L121.4,461.5 L122.6,461.4 L123.8,461.2 L125.0,460.8 L126.0,461.0 L127.5,455.5 L129.0,460.8 L129.8,460.7 L131.0,460.8 L132.2,460.5 L132.9,460.7 L134.7,457.5 L136.5,461.1 L137.0,461.3 L138.2,460.9 L139.4,461.4 L140.6,460.9 L141.8,461.5 L143.0,461.4 L144.2,460.4 L145.4,460.7 L146.6,461.4 L147.8,460.9 L148.0,461.4 L149.5,452.6 L151.0,460.6 L151.4,461.5 L152.6,460.8 L153.8,460.5 L155.0,461.1 L156.2,461.3 L157.4,460.7 L158.6,460.5 L159.8,460.8 L161.0,461.4 L162.2,461.2 L163.4,460.5 L164.1,461.2 L165.3,456.8 L166.5,460.4 L167.0,460.6 L168.2,460.5 L169.4,460.4 L170.6,461.2 L171.8,460.5 L171.9,460.6 L173.4,456.0 L174.9,460.6 L175.4,461.0 L176.6,460.8 L177.8,460.5 L179.0,461.1 L180.2,460.5 L181.4,461.0 L181.5,461.1 L183.0,454.5 L184.5,460.7 L185.0,460.4 L186.2,460.8 L187.4,460.5 L188.6,460.6 L189.1,460.7 L190.6,454.5 L192.1,461.0 L192.2,461.4 L193.4,461.2 L194.6,460.6 L195.8,461.2 L197.0,460.5 L198.2,460.7 L198.5,460.4 L200.0,454.5 L201.5,461.1 L201.8,461.2 L203.0,461.0 L204.2,460.4 L205.4,461.3 L206.6,460.5 L206.6,460.4 L207.8,456.5 L209.0,460.8 L210.2,460.5 L211.4,461.1 L211.5,460.5 L213.0,452.5 L214.5,460.4 L215.0,460.6 L216.2,460.5 L217.4,460.3 L218.6,460.3 L219.8,460.8 L221.0,460.4 L221.4,460.8 L222.6,457.0 L223.8,460.6 L224.6,460.8 L225.4,460.6 L226.6,448.5 L227.8,460.6 L228.2,460.5 L229.4,460.6 L230.6,461.2 L231.8,460.7 L233.0,460.7 L234.0,460.7 L235.5,454.0 L237.0,460.3 L237.8,461.0 L239.0,460.3 L239.5,460.3 L240.7,457.0 L241.9,460.8 L242.6,460.2 L243.8,461.1 L245.0,461.0 L246.2,460.3 L247.2,460.7 L248.4,457.0 L249.6,460.6 L249.8,460.2 L251.0,460.8 L251.8,461.0 L253.0,453.0 L254.2,460.7 L254.6,461.0 L255.8,460.2 L257.0,461.0 L258.2,461.0 L259.4,460.7 L260.6,460.4 L261.8,460.1 L263.0,460.0 L264.2,461.0 L265.4,460.2 L266.6,460.7 L266.8,460.9 L268.0,456.5 L269.2,459.8 L270.2,459.4 L271.4,459.6 L272.6,459.2 L273.8,459.1 L275.0,459.2 L276.2,460.0 L276.2,460.0 L278.0,456.0 L279.8,460.8 L281.0,460.2 L282.2,460.6 L283.4,461.1 L284.6,461.4 L285.8,461.1 L287.0,460.7 L288.2,461.4 L289.4,460.6 L290.6,460.4 L291.8,460.7 L293.0,460.9 L294.2,460.4 L295.4,460.6 L296.6,460.8 L297.8,461.0 L299.0,460.5 L300.2,460.7 L301.4,461.3 L302.6,461.4 L303.8,461.0 L305.0,461.0 L306.2,460.9 L307.4,460.4 L308.6,460.3 L309.8,460.3 L311.0,461.0 L312.2,460.4 L313.4,460.4 L314.6,459.1 L315.8,459.6 L317.0,459.4 L318.2,459.7 L319.4,459.2 L320.6,459.9 L321.8,458.8 L323.0,459.3 L324.2,459.5 L325.4,459.6 L326.6,459.4 L327.8,459.3 L329.0,459.4 L330.2,459.5 L331.4,458.9 L332.6,459.3 L333.8,459.6 L335.0,459.7 L336.2,459.3 L337.4,459.8 L338.6,460.0 L339.8,459.8 L341.0,460.0 L342.2,459.8 L343.4,460.2 L344.6,460.3 L345.8,459.8 L347.0,460.6 L348.2,461.1 L349.4,461.1 L350.6,461.4 L351.8,461.8 L353.0,463.0 L354.2,463.7 L355.4,464.3 L355.8,465.1 L357.0,465.5 L358.2,463.5 L359.0,462.9 L360.2,460.4 L361.4,460.4 L362.6,458.9 L363.8,458.8 L365.0,458.0 L366.2,457.8 L367.4,458.5 L368.6,458.4 L369.0,458.2 L370.2,452.6 L371.4,459.0 L372.2,458.6 L373.4,459.0 L374.6,458.2 L374.7,458.2 L375.9,465.5 L377.1,459.0 L378.2,458.0 L379.4,458.3 L380.6,458.7 L381.8,458.2 L383.0,458.1 L384.2,458.9 L385.4,458.7 L386.6,458.4 L387.8,458.9 L389.0,458.3 L390.2,458.7 L391.4,458.2 L392.6,458.4 L393.8,458.8 L395.0,459.0 L396.2,459.0 L397.4,458.6 L398.6,459.0 L399.8,458.9 L401.0,458.9 L402.2,459.5 L403.4,460.1 L404.6,460.3 L405.8,460.1 L407.0,460.2 L408.2,459.3 L409.4,459.0 L410.6,459.1 L411.8,458.7 L413.0,458.5 L414.2,458.5 L415.4,458.7 L416.6,458.6 L417.8,458.4 L419.0,459.1 L420.2,459.3 L421.4,458.8 L422.6,458.4 L423.8,458.4 L425.0,459.4 L426.2,459.5 L427.4,461.3 L428.6,462.2 L429.8,462.0 L431.0,462.0 L432.2,460.7 L433.4,460.3 L434.6,460.2 L435.8,459.3 L437.0,459.7 L438.2,459.2 L439.4,459.2 L440.6,459.3 L441.8,460.1 L443.0,460.0 L444.2,460.4 L445.4,460.6 L446.6,460.9 L447.8,461.2 L449.0,461.1 L450.2,460.7 L451.4,461.2 L452.6,461.1 L453.8,461.1 L455.0,461.8 L456.2,462.5 L457.4,461.4 L458.6,461.8 L459.8,462.2 L461.0,463.1 L462.2,462.7 L463.4,463.0 L464.6,463.4 L465.8,462.5 L467.0,463.5 L468.2,463.8 L469.4,461.9 L470.6,464.0 L471.8,463.5 L473.0,462.1 L474.2,462.9 L475.4,463.4 L476.6,464.1 L477.8,462.8 L479.0,463.3 L480.2,464.1 L481.4,464.0 L482.6,464.4 L483.8,463.2 L485.0,463.7 L486.2,462.7 L487.4,464.0 L488.6,464.2 L489.8,463.8 L491.0,464.0 L492.2,462.7 L493.4,464.4 L494.6,464.5 L495.8,464.5 L497.0,463.4 L498.2,463.9 L499.4,462.8 L500.6,464.1 L501.8,464.0 L503.0,462.7 L504.2,462.0 L505.4,462.8 L506.6,463.1 L507.8,463.6 L509.0,462.8 L510.2,461.7 L511.4,463.5 L512.6,461.7 L513.8,463.4 L515.0,461.9 L516.2,462.2 L517.4,463.3 L518.6,461.7 L519.8,461.7 L521.0,462.7 L522.2,463.4 L523.4,463.9 L524.6,463.7 L525.8,464.5 L527.0,463.6 L528.2,464.9 L529.4,463.0 L530.6,463.5 L531.8,464.5 L533.0,464.1 L534.2,465.3 L535.4,465.3 L536.6,465.2 L537.8,466.2 L539.0,465.7 L540.2,465.3 L541.4,465.6 L542.6,467.0 L543.8,467.3 L545.0,465.8 L546.2,467.1 L547.4,467.2 L548.6,465.8 L549.8,465.7 L551.0,464.6 L552.2,465.1 L553.4,464.8 L554.6,464.8 L555.8,463.5 L557.0,465.9 L558.2,465.0 L559.4,464.9 L560.6,466.1 L561.8,465.7 L563.0,465.7 L564.2,466.3 L565.4,465.0 L566.6,466.4 L567.8,466.4 L569.0,468.0 L570.2,468.1 L571.4,466.8 L572.6,467.6 L573.8,467.0 L575.0,468.0 L576.2,469.2 L577.4,469.6" fill="none" stroke="#a9aeb5" stroke-width="0.8"/>
<path d="M553,465.5 L555,463.5 L557,465 L559,464 L561,466 L563,464.5 L565,466" fill="none" stroke="#8d86a8" stroke-width="0.9"/>
<rect x="552.5" y="445.5" width="12" height="29" fill="none" stroke="#adb2b9" stroke-width="1"/>
<rect x="136.5" y="185" width="141" height="25.5" rx="2.5" fill="rgba(56,56,56,0.88)"/>
<path d="M145.8,210.5 L150.8,215 L155.8,210.5 Z" fill="rgba(56,56,56,0.88)"/>
<text x="141" y="196.3" font-family="Liberation Sans" font-size="9" font-weight="bold" fill="#fff">180 926 – Охват подписчиков</text>
<text x="141" y="206.3" font-family="Liberation Sans" font-size="8.1" font-weight="bold" fill="#fff">10 Июля 2017</text>
</svg>
<!-- legend -->
<svg width="671" height="527" style="position:absolute;left:0;top:0">
<g fill="none" stroke-width="1">
<rect x="78.5" y="483.5" width="10" height="10" stroke="#7a8590"/>
<rect x="78.5" y="498.5" width="10" height="10" stroke="#8e7a88"/>
<rect x="329.5" y="483.5" width="10" height="10" stroke="#7a8a8a"/>
<rect x="329.5" y="498.5" width="10" height="10" stroke="#6f7f74"/>
</g>
<g fill="none" stroke-width="1.9" stroke-linecap="round" stroke-linejoin="round">
<path d="M81.2,488.4 L83.8,490.9 L88.9,485" stroke="#566f8a"/>
<path d="M81.2,503.4 L83.8,505.9 L88.9,500" stroke="#8f527b"/>
<path d="M332.2,488.4 L334.8,490.9 L339.9,485" stroke="#4e8a8e"/>
<path d="M332.2,503.4 L334.8,505.9 L339.9,500" stroke="#4f7a5a"/>
</g>
<g font-family="Liberation Sans" font-size="8.8">
<text x="93" y="491" fill="#80868d">Полный охват</text>
<text x="93" y="506" fill="#a07a92">Охват подписчиков</text>
<text x="344" y="491" fill="#7a9a9e">Виральный охват</text>
<text x="344" y="506" fill="#7c9580">Рекламный охват</text>
</g>
<rect x="185" y="481" width="35" height="12.5" rx="2" fill="#5b7fa6"/>
<rect x="185" y="496.3" width="35" height="12.5" rx="2" fill="#b05a8e"/>
<rect x="428.5" y="481" width="30" height="12.5" rx="2" fill="#56a0ad"/>
<rect x="428" y="496.3" width="14" height="12.5" rx="2" fill="#5a9066"/>
<g font-family="Liberation Sans" font-size="8.2" font-weight="bold" fill="#fff" text-anchor="middle">
<text x="202.5" y="490.8">217 141</text>
<text x="202.5" y="506">180 926</text>
<text x="443.5" y="490.8">36 203</text>
<text x="435" y="506">13</text>
</g>
</svg>
</body></html>
